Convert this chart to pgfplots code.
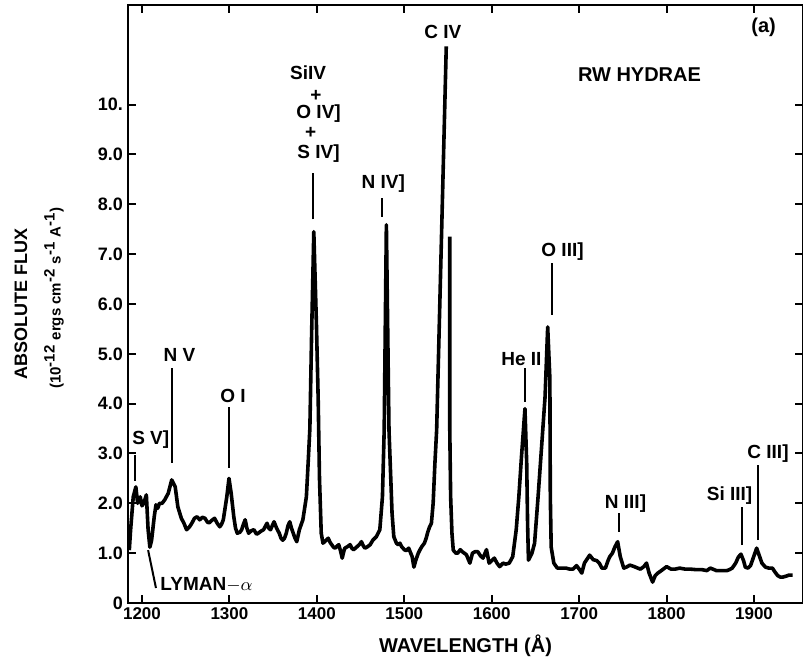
\documentclass[border=0pt]{standalone}
\usepackage{fontspec}
\setmainfont{Liberation Sans}
\usepackage{pgfplots}
\pgfplotsset{compat=1.18}

\newcommand\ann{\fontsize{9.5}{10}\selectfont\bfseries}

% spectrum, left part up to the C IV peak
\pgfplotstableread{
x y
1185.5 1.06
1187 1.47
1190 2.13
1193 2.33
1195 2.0
1198 2.13
1200 1.95
1202 2.0
1205 2.17
1207 1.47
1209 1.12
1211 1.26
1214 1.73
1216 1.97
1218 1.9
1220 2.0
1223 2.0
1226 2.07
1230 2.2
1234 2.47
1238 2.33
1241 1.93
1245 1.7
1248 1.6
1251 1.47
1254 1.52
1257 1.6
1260 1.7
1263 1.73
1266 1.67
1269 1.72
1272 1.7
1275 1.62
1277 1.61
1280 1.66
1283 1.7
1286 1.6
1289 1.53
1291 1.58
1293 1.67
1295 1.9
1297 2.13
1299.5 2.5
1302 2.2
1305 1.73
1307 1.5
1309 1.4
1312 1.42
1314 1.47
1316 1.58
1318 1.67
1320 1.5
1322 1.4
1325 1.45
1328 1.47
1331 1.38
1333 1.4
1336 1.44
1339 1.47
1343 1.6
1345 1.5
1347 1.47
1349 1.55
1351 1.63
1354 1.5
1357 1.4
1359 1.3
1361 1.26
1363 1.3
1365 1.4
1367 1.55
1369 1.63
1371 1.5
1373 1.4
1375 1.3
1377 1.23
1380 1.47
1384 1.67
1388 2.13
1390 2.8
1392 3.5
1394 5.4
1396.5 7.45
1399.5 5.6
1401.5 4.1
1403 2.5
1405 1.4
1407 1.2
1410 1.25
1413 1.3
1415 1.22
1417 1.17
1419 1.12
1421 1.1
1423 1.14
1425 1.17
1427 1.05
1429 0.9
1431 1.05
1432 1.1
1435 1.13
1438 1.17
1440 1.1
1442 1.07
1444 1.1
1446 1.13
1449 1.18
1451 1.23
1453 1.15
1455 1.1
1458 1.13
1461 1.17
1464 1.26
1468 1.33
1472 1.47
1475 2.13
1477 3.47
1479.5 7.59
1482.5 3.47
1486 1.8
1488 1.33
1491 1.2
1493 1.17
1495 1.2
1497 1.13
1500 1.07
1502 1.05
1505 1.1
1509 0.93
1511 0.72
1513 0.85
1516 1.0
1518 1.07
1520 1.13
1523 1.2
1525 1.3
1527 1.43
1529 1.53
1531 1.6
1533 2.0
1535 2.8
1537 3.47
1548 11.17
}\specA

% spectrum, right part from the C IV peak on
\pgfplotstableread{
x y
1552 7.35
1552 3.5
1553 2.13
1554.5 1.4
1556 1.06
1559 1.0
1561 1.0
1564 1.07
1567 1.02
1571 0.97
1575 0.8
1578 1.0
1581 1.03
1584 1.03
1587 0.95
1590 0.9
1594 1.07
1597 0.8
1600 0.85
1603 0.9
1606 0.8
1609 0.73
1613 0.8
1616 0.78
1620 0.8
1624 0.93
1628 1.47
1631 2.13
1634 2.93
1638 3.9
1640 2.8
1641 1.6
1642 0.86
1646 1.0
1649 1.2
1653 2.13
1657 3.13
1661 4.14
1664 5.54
1666.5 4.5
1667 2.13
1668 1.12
1671 0.8
1675 0.7
1680 0.7
1685 0.7
1689 0.68
1693 0.68
1697 0.75
1700 0.68
1703 0.6
1706 0.8
1709 0.88
1712 0.96
1716 0.87
1720 0.85
1723 0.8
1726 0.7
1730 0.7
1733 0.85
1735 0.93
1738 1.0
1741 1.13
1744 1.23
1747 0.93
1751 0.7
1754 0.72
1758 0.76
1763 0.73
1767 0.7
1770 0.68
1774 0.73
1777 0.8
1780 0.6
1784 0.42
1787 0.55
1790 0.6
1794 0.65
1800 0.73
1805 0.68
1810 0.68
1815 0.7
1821 0.68
1827 0.68
1833 0.67
1840 0.67
1846 0.65
1850 0.7
1857 0.65
1864 0.65
1869 0.65
1872 0.67
1875 0.7
1879 0.8
1882 0.92
1885 0.98
1888 0.85
1890 0.72
1893 0.7
1896 0.75
1899 0.9
1903 1.1
1906 0.95
1909 0.8
1913 0.72
1917 0.7
1921 0.7
1924 0.62
1927 0.55
1930 0.52
1933 0.52
1937 0.54
1940 0.56
1944 0.56
}\specB

\begin{document}
\begin{tikzpicture}
\begin{axis}[
    name=ax,
    scale only axis,
    width=337.5pt, height=299pt,
    xmin=1184, xmax=1956,
    ymin=0, ymax=12,
    axis line style={line width=1.1pt},
    tick align=inside,
    major tick length=4pt,
    tick style={line width=1pt, black},
    xtick={1200,1300,...,1900},
    xticklabels={1200,1300,1400,1500,1600,1700,1800,1900},
    ytick={0,1,...,10},
    yticklabels={0,1.0,2.0,3.0,4.0,5.0,6.0,7.0,8.0,9.0,10.},
    xticklabel style={font=\fontsize{8.5}{8.5}\selectfont\bfseries, yshift=1pt},
    yticklabel style={font=\fontsize{9}{9}\selectfont\bfseries, xshift=1pt},
    clip=false,
]
\addplot[black, line width=1.8pt, line join=round] table {\specA};
\addplot[black, line width=1.8pt, line join=round] table {\specB};

% axis labels
\node[font=\fontsize{9}{9}\selectfont\bfseries, rotate=90]
  at ([xshift=-53.5pt]rel axis cs:0,0.5) {ABSOLUTE FLUX};
\node[font=\fontsize{7.5}{9}\selectfont\bfseries, rotate=90]
  at ([xshift=-37pt]rel axis cs:0,0.51)
  {(10$^{\textbf{-12}}$ ergs cm$^{\textbf{-2}}$ s$^{\textbf{-1}}$ A$^{\textbf{-1}}$)};
\node[font=\fontsize{10}{10}\selectfont\bfseries] at ([yshift=-21.5pt]rel axis cs:0.5,0) {WAVELENGTH (\AA)};

% line identifications
\begin{scope}[line width=1pt, every node/.style={inner sep=0pt}]
\node[font=\ann] at (axis cs:1210,3.27) {S V]};
\draw (axis cs:1192,2.45) -- (axis cs:1192,2.97);
\node[font=\ann] at (axis cs:1243,4.98) {N V};
\draw (axis cs:1234,2.81) -- (axis cs:1234,4.72);
\node[font=\ann] at (axis cs:1304,4.16) {O I};
\draw (axis cs:1299.5,2.71) -- (axis cs:1299.5,3.94);
\node[font=\ann, anchor=west] at (axis cs:1220,0.36) {LYMAN$-\alpha$};
\draw (axis cs:1207,1.06) -- (axis cs:1216,0.3);
\node[font=\ann] at (axis cs:1390,10.64) {SiIV};
\node[font=\ann] at (axis cs:1399,10.18) {+};
\node[font=\ann] at (axis cs:1402,9.83) {O IV]};
\node[font=\ann] at (axis cs:1393,9.44) {+};
\node[font=\ann] at (axis cs:1402,9.02) {S IV]};
\draw (axis cs:1395.5,7.7) -- (axis cs:1395.5,8.63);
\node[font=\ann] at (axis cs:1476,8.42) {N IV]};
\draw (axis cs:1475,7.75) -- (axis cs:1475,8.13);
\node[font=\ann] at (axis cs:1544,11.45) {C IV};
\node[font=\ann] at (axis cs:1681,7.05) {O III]};
\draw (axis cs:1668.6,5.78) -- (axis cs:1668.6,6.83);
\node[font=\ann] at (axis cs:1634,4.9) {He II};
\draw (axis cs:1638,4.04) -- (axis cs:1638,4.72);
\node[font=\ann] at (axis cs:1753,2.0) {N III]};
\draw (axis cs:1745,1.43) -- (axis cs:1745,1.8);
\node[font=\ann] at (axis cs:1872,2.15) {Si III]};
\draw (axis cs:1886,1.16) -- (axis cs:1886,1.93);
\node[font=\ann] at (axis cs:1916,3.0) {C III]};
\draw (axis cs:1905,1.26) -- (axis cs:1905,2.77);
\node[font=\fontsize{10}{10}\selectfont\bfseries] at (axis cs:1769,10.6) {RW HYDRAE};
\node[font=\fontsize{10}{10}\selectfont\bfseries] at (axis cs:1911,11.55) {(a)};
\end{scope}
\end{axis}
\pgfresetboundingbox
\path ([shift={(-64pt,-29pt)}]ax.south west) rectangle ([shift={(0pt,2.5pt)}]ax.north east);
\end{tikzpicture}
\end{document}
